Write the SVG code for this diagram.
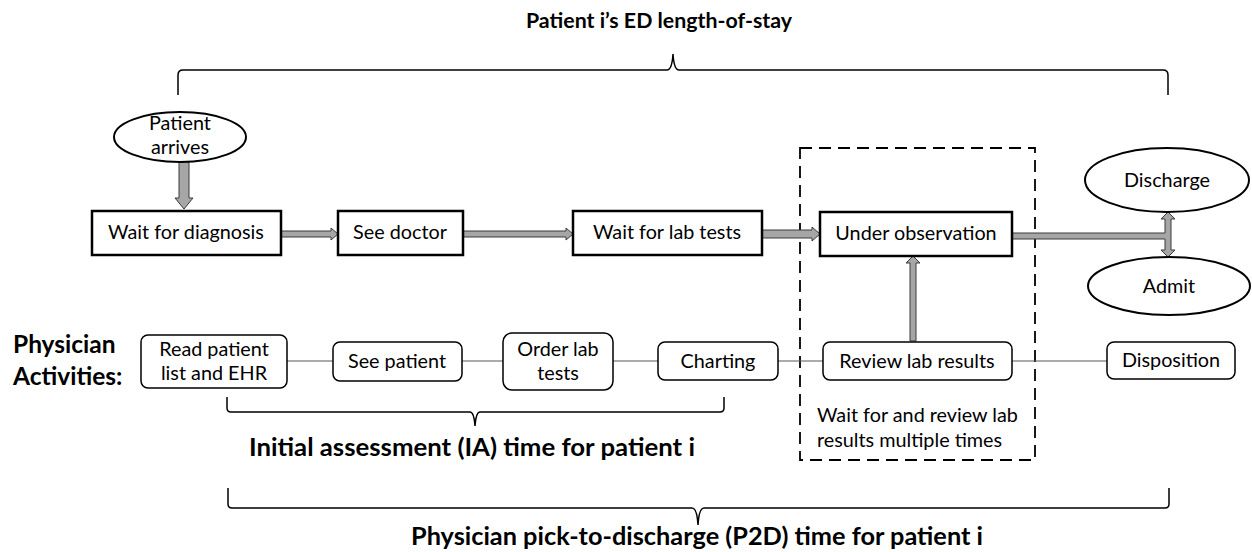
<svg xmlns="http://www.w3.org/2000/svg" width="1252" height="552" viewBox="0 0 1252 552">
<style>
text{font-family:Lato,"Open Sans","Liberation Sans",sans-serif;fill:#000}
.t{font-size:19.8px}
.b{font-weight:bold}
.box{fill:#fff;stroke:#000;stroke-width:2.5}
.rbox{fill:#fff;stroke:#000;stroke-width:1.5}
.ell{fill:#fff;stroke:#000;stroke-width:2}
.arr{fill:#a6a6a6;stroke:#3a3a3a;stroke-width:1}
.thin{stroke:#595959;stroke-width:1.2;fill:none}
.brace{fill:none;stroke:#000;stroke-width:1.5}
.dash{fill:none;stroke:#000;stroke-width:1.8;stroke-dasharray:12,7}
</style>
<rect width="1252" height="552" fill="#fff"/>

<g id="labels">
<text class="b" x="526" y="28" font-size="21.5" textLength="266" lengthAdjust="spacingAndGlyphs">Patient i’s ED length-of-stay</text>
<text class="b" x="13" y="353" font-size="24.5">Physician</text>
<text class="b" x="13" y="385" font-size="24.5">Activities:</text>
<text class="b" x="249" y="456" font-size="25" textLength="446" lengthAdjust="spacingAndGlyphs">Initial assessment (IA) time for patient i</text>
<text class="b" x="411" y="545" font-size="24.5" textLength="572" lengthAdjust="spacingAndGlyphs">Physician pick-to-discharge (P2D) time for patient i</text>
</g>

<g id="braces">
<path class="brace" d="M178,95 V75 Q178,70 183,70 H667 Q672,70 673,54 Q674,70 679,70 H1163 Q1168,70 1168,75 V95"/>
<path class="brace" d="M227,397 V408 Q227,412 231,412 H470 Q474,412 475,426 Q476,412 480,412 H720 Q724,412 724,408 V397"/>
<path class="brace" d="M228,488 V504 Q228,508 232,508 H692 Q697,508 698,525 Q699,508 704,508 H1165 Q1169,508 1169,504 V488"/>
</g>

<g id="group-labs">
<rect class="dash" x="800" y="148" width="235" height="312"/>
<text class="t" x="817" y="422">Wait for and review lab</text>
<text class="t" x="817" y="447">results multiple times</text>
</g>

<g id="connectors">
<line class="thin" x1="287" y1="361" x2="333" y2="361"/>
<line class="thin" x1="462" y1="361" x2="503" y2="361"/>
<line class="thin" x1="613" y1="361" x2="658" y2="361"/>
<line class="thin" x1="778" y1="361" x2="823" y2="361"/>
<line class="thin" x1="1012" y1="361" x2="1107" y2="361"/>
<polygon class="arr" points="179,162 189,162 189,198 193,198 184,209 175,198 179,198"/>
<polygon class="arr" points="281,231 331,231 331,228 338,234 331,240 331,237 281,237"/>
<polygon class="arr" points="463,231 566,231 566,228 573,234 566,240 566,237 463,237"/>
<polygon class="arr" points="762,230 812,230 812,227 820,234 812,241 812,238 762,238"/>
<polygon class="arr" points="910,341 910,263 906,263 913,256 920,263 916,263 916,341"/>
<polygon class="arr" points="1012,233 1165,233 1165,219 1161,219 1168,212 1175,219 1171,219 1171,250 1175,250 1168,257 1161,250 1165,250 1165,239 1012,239"/>
</g>

<g id="n-arrives"><ellipse class="ell" cx="180" cy="137" rx="66" ry="25"/>
<text class="t" x="180" y="130" text-anchor="middle">Patient</text>
<text class="t" x="180" y="154" text-anchor="middle">arrives</text></g>

<g id="n-waitdiag"><rect class="box" x="92" y="211" width="189" height="44"/>
<text class="t" x="186" y="239" text-anchor="middle">Wait for diagnosis</text></g>

<g id="n-seedoc"><rect class="box" x="338" y="211" width="125" height="44"/>
<text class="t" x="400" y="239" text-anchor="middle">See doctor</text></g>

<g id="n-waitlab"><rect class="box" x="573" y="211" width="189" height="44"/>
<text class="t" x="667" y="239" text-anchor="middle">Wait for lab tests</text></g>

<g id="n-obs"><rect class="box" x="820" y="212" width="192" height="44"/>
<text class="t" x="916" y="240" text-anchor="middle">Under observation</text></g>

<g id="n-discharge"><ellipse class="ell" cx="1167" cy="180" rx="82" ry="32"/>
<text class="t" x="1167" y="187" text-anchor="middle">Discharge</text></g>

<g id="n-admit"><ellipse class="ell" cx="1169" cy="286" rx="81" ry="29"/>
<text class="t" x="1169" y="293" text-anchor="middle">Admit</text></g>

<g id="n-read"><rect class="rbox" x="141" y="335" width="146" height="53" rx="7"/>
<text class="t" x="214" y="356" text-anchor="middle">Read patient</text>
<text class="t" x="214" y="380" text-anchor="middle">list and EHR</text></g>

<g id="n-seepat"><rect class="rbox" x="333" y="342" width="129" height="39" rx="7"/>
<text class="t" x="397" y="368" text-anchor="middle">See patient</text></g>

<g id="n-order"><rect class="rbox" x="503" y="333" width="110" height="57" rx="9"/>
<text class="t" x="558" y="356" text-anchor="middle">Order lab</text>
<text class="t" x="558" y="380" text-anchor="middle">tests</text></g>

<g id="n-chart"><rect class="rbox" x="658" y="342" width="120" height="38" rx="7"/>
<text class="t" x="718" y="368" text-anchor="middle">Charting</text></g>

<g id="n-review"><rect class="rbox" x="823" y="342" width="189" height="38" rx="7"/>
<text class="t" x="917" y="368" text-anchor="middle">Review lab results</text></g>

<g id="n-dispo"><rect class="rbox" x="1107" y="342" width="128" height="37" rx="7"/>
<text class="t" x="1171" y="367" text-anchor="middle">Disposition</text></g>
</svg>
